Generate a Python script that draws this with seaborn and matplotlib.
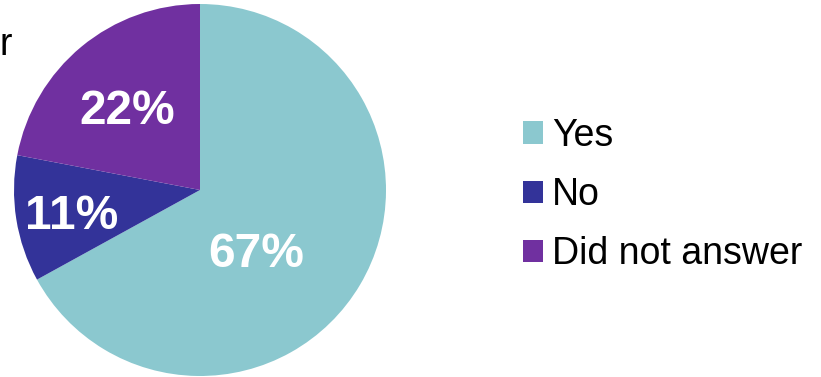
import matplotlib
matplotlib.use("Agg")
import matplotlib.pyplot as plt
import seaborn as sns

categories = ["Yes", "No", "Did not answer"]
values = [67, 11, 22]
pct_labels = ["67%", "11%", "22%"]
colors = ["#8BC8CF", "#333399", "#7030A0"]

sns.set_theme(style="white")
plt.rcParams["font.family"] = ["Liberation Sans", "DejaVu Sans"]
plt.rcParams["text.color"] = "black"

W, H = 821, 377
fig = plt.figure(figsize=(W / 100, H / 100), dpi=100)
cx, cy, R = 200, 190, 186
ax = fig.add_axes([(cx - R) / W, (H - cy - R) / H, 2 * R / W, 2 * R / H])

wedges, _ = ax.pie(values, colors=colors, startangle=90, counterclock=False,
                   radius=1, wedgeprops=dict(linewidth=0))
ax.set_xlim(-1, 1)
ax.set_ylim(-1, 1)
ax.set_aspect("equal")
ax.axis("off")

# label positions (in pie radius units)
label_pos = [(0.30, -0.345), (-0.69, -0.145), (-0.39, 0.42)]
for txt, (x, y) in zip(pct_labels, label_pos):
    ax.text(x, y, txt, color="white", fontsize=34.5, fontweight="bold",
            ha="center", va="center")

leg = fig.legend(wedges, categories, loc="center left",
                 bbox_to_anchor=(523 / W, 1 - 195 / H), frameon=False,
                 fontsize=27, handlelength=0.53, handleheight=0.53,
                 handletextpad=0.25, labelspacing=0.62, borderpad=0, borderaxespad=0)
for t in leg.get_texts():
    t.set_color("black")

fig.text(0.0, 1 - 55 / H, "r", fontsize=27, ha="left", va="baseline", color="black")

fig.savefig("out.png", dpi=100)
